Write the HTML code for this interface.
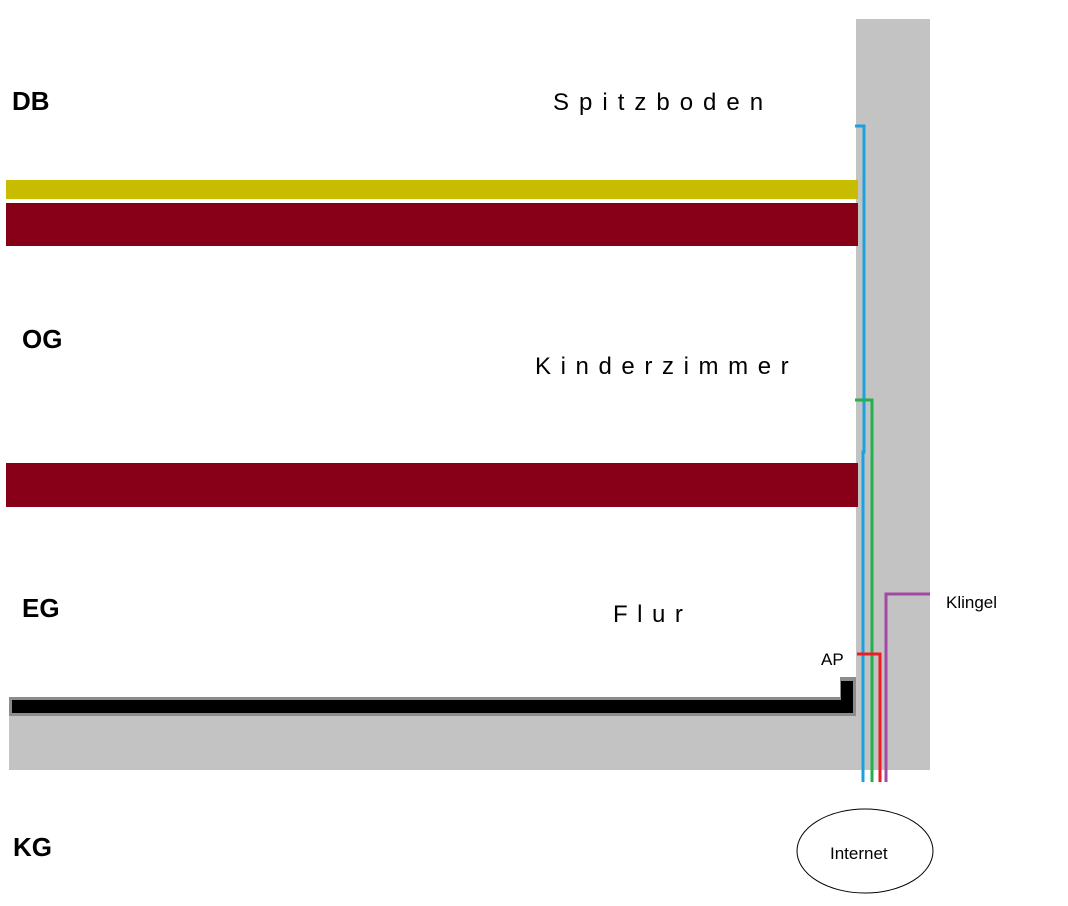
<!DOCTYPE html>
<html><head><style>
body{margin:0;width:1068px;height:906px;background:#fff;overflow:hidden}
</style></head><body>
<svg width="1068" height="906" xmlns="http://www.w3.org/2000/svg" style="position:absolute;left:0;top:0">
<rect x="856" y="19" width="74" height="751" fill="#c3c3c3"/>
<rect x="9" y="716" width="847" height="54" fill="#c3c3c3"/>
<rect x="6" y="180" width="852" height="19" fill="#c8bc00"/>
<rect x="6" y="203" width="852" height="43" fill="#880018"/>
<rect x="6" y="463" width="852" height="44" fill="#880018"/>
<path d="M9 697 H840 V677 H856 V716 H9 Z" fill="#8c8c8c"/>
<path d="M12 700 H841 V681 H853 V713 H12 Z" fill="#000"/>
<g fill="none" stroke-width="3">
<path d="M855 126 H864 V452 H863 V782" stroke="#1ba1e2"/>
<path d="M855 400 H872 V782" stroke="#22b14c"/>
<path d="M857 654 H880 V782" stroke="#ed1c24"/>
<path d="M930 594 H886 V782" stroke="#a349a4"/>
</g>
<ellipse cx="865" cy="851" rx="68" ry="42" fill="#fff" stroke="#000" stroke-width="1"/>
<g font-family="Liberation Sans, sans-serif">
<text x="12" y="110" font-size="26" font-weight="bold">DB</text>
<text x="22" y="348" font-size="26" font-weight="bold">OG</text>
<text x="22" y="617" font-size="26" font-weight="bold">EG</text>
<text x="13" y="856" font-size="26" font-weight="bold">KG</text>
<text x="553" y="110" font-size="24" letter-spacing="10">Spitzboden</text>
<text x="535" y="374" font-size="24" letter-spacing="9.6">Kinderzimmer</text>
<text x="613" y="622" font-size="24" letter-spacing="9.5">Flur</text>
<text x="821" y="665" font-size="17">AP</text>
<text x="946" y="608" font-size="17">Klingel</text>
<text x="830" y="859" font-size="17">Internet</text>
</g>
</svg>
</body></html>
